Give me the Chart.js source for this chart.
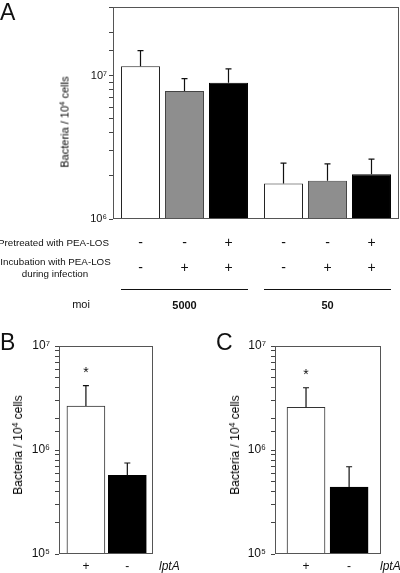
<!DOCTYPE html>
<html>
<head>
<meta charset="utf-8">
<script src="https://cdn.jsdelivr.net/npm/chart.js@4.4.0/dist/chart.umd.min.js"></script>
<style>
  body { margin: 0; background: #fff; font-family: "Liberation Sans", Arial, sans-serif; color: #111; }
  #wrap { position: relative; width: 400px; height: 573px; overflow: hidden; }
  canvas { position: absolute; }
  .letter { position: absolute; font-size: 23px; line-height: 1; }
  .ytitle { position: absolute; white-space: nowrap; line-height: 1; color: #000; transform: translate(-50%, -50%) rotate(-90deg); }
  .ytitle sup { font-size: 0.72em; vertical-align: 0.5em; line-height: 0; }
  .gene { position: absolute; font-style: italic; font-size: 12px; line-height: 1; }
</style>
</head>
<body>
<div id="wrap">
  <canvas id="chartA" width="400" height="320" style="left:0;top:0"></canvas>
  <canvas id="chartB" width="200" height="243" style="left:0;top:330px"></canvas>
  <canvas id="chartC" width="200" height="243" style="left:200px;top:330px"></canvas>

  <div class="letter" style="left:0;top:1px">A</div>
  <div class="letter" style="left:0;top:331px">B</div>
  <div class="letter" style="left:216px;top:331px">C</div>

  <div class="ytitle" style="left:65px;top:122px;font-size:11px">Bacteria / 10<sup>4</sup> cells</div>
  <div class="ytitle" style="left:18px;top:445px;font-size:12px">Bacteria / 10<sup>4</sup> cells</div>
  <div class="ytitle" style="left:235px;top:445px;font-size:12px">Bacteria / 10<sup>4</sup> cells</div>

  <div class="gene" style="left:159px;top:560px">lptA</div>
  <div class="gene" style="left:380px;top:560px">lptA</div>
</div>

<script>
// panel A: two moi groups, three treatments each
const moiGroups = ['5000', '50'];
const treatments = ['none', 'PEA-LOS during infection', 'pretreated + PEA-LOS'];
const pretreatedSign = ['-', '-', '+'];
const incubationSign = ['-', '+', '+'];
const noneVals = [1.16e7, 1.77e6];
const noneErr = [3.3e6, 6.8e5];
const duringVals = [7.8e6, 1.85e6];
const duringErr = [1.7e6, 5.7e5];
const pretreatVals = [8.9e6, 2.05e6];
const pretreatErr = [2.2e6, 5.6e5];

// panels B and C: lptA + / -
const lptStatus = ['+', '-'];
const bVals = [2.65e6, 5.7e5];
const bErr = [1.5e6, 1.8e5];
const cVals = [2.57e6, 4.4e5];
const cErr = [1.4e6, 2.5e5];
const stars = ['*', ''];

const FONT = '"Liberation Sans", Arial, sans-serif';
Chart.defaults.font.family = FONT;
Chart.defaults.color = '#111';

const supDigits = { 5: '\u2075', 6: '\u2076', 7: '\u2077' };
const decadeLabel = (v) => {
  const e = Math.log10(v);
  return Math.abs(e - Math.round(e)) < 1e-9 ? '10' + supDigits[Math.round(e)] : '';
};

// box around the plot area
const frame = {
  id: 'frame',
  afterDatasetsDraw(chart) {
    const { left, top, right, bottom } = chart.chartArea;
    const ctx = chart.ctx;
    ctx.save();
    ctx.strokeStyle = '#555';
    ctx.lineWidth = 1;
    ctx.strokeRect(left + 0.5, top + 0.5, right - left - 1, bottom - top - 1);
    ctx.restore();
  }
};

// upward error bars (+ optional significance star)
const errorBars = {
  id: 'errorBars',
  afterDatasetsDraw(chart) {
    const ctx = chart.ctx;
    const y = chart.scales.y;
    chart.data.datasets.forEach((ds, i) => {
      chart.getDatasetMeta(i).data.forEach((bar, j) => {
        const raw = ds.data[j];
        const val = typeof raw === 'object' ? raw.y : raw;
        const top = y.getPixelForValue(val + ds.errors[j]);
        ctx.save();
        ctx.strokeStyle = '#111';
        ctx.lineWidth = 1.2;
        ctx.beginPath();
        ctx.moveTo(bar.x, bar.y);
        ctx.lineTo(bar.x, top);
        ctx.moveTo(bar.x - 3, top);
        ctx.lineTo(bar.x + 3, top);
        ctx.stroke();
        if (ds.stars && ds.stars[j]) {
          ctx.fillStyle = '#111';
          ctx.font = '14px ' + FONT;
          ctx.textAlign = 'center';
          ctx.textBaseline = 'alphabetic';
          ctx.fillText(ds.stars[j], bar.x, top - 9);
        }
        ctx.restore();
      });
    });
  }
};

// treatment table under panel A
const treatmentRows = {
  id: 'treatmentRows',
  afterDraw(chart) {
    const ctx = chart.ctx;
    ctx.save();
    ctx.fillStyle = '#111';
    ctx.textBaseline = 'middle';
    ctx.font = '9.8px ' + FONT;
    ctx.textAlign = 'right';
    ctx.fillText('Pretreated with PEA-LOS', 109, 243);
    ctx.textAlign = 'center';
    ctx.fillText('Incubation with PEA-LOS', 55.5, 262);
    ctx.fillText('during infection', 55, 274);
    ctx.font = '11px ' + FONT;
    ctx.fillText('moi', 81, 305);

    ctx.font = '14px ' + FONT;
    chart.data.datasets.forEach((ds, i) => {
      chart.getDatasetMeta(i).data.forEach((bar) => {
        ctx.fillText(pretreatedSign[i], bar.x, 243);
        ctx.fillText(incubationSign[i], bar.x, 268);
      });
    });

    const first = chart.getDatasetMeta(0).data;
    const last = chart.getDatasetMeta(chart.data.datasets.length - 1).data;
    ctx.strokeStyle = '#111';
    ctx.lineWidth = 1;
    moiGroups.forEach((g, j) => {
      ctx.beginPath();
      ctx.moveTo(first[j].x - first[j].width / 2, 289.5);
      ctx.lineTo(last[j].x + last[j].width / 2, 289.5);
      ctx.stroke();
    });
    ctx.restore();
  }
};

function logAxis(min, max, width, fontSize, pad) {
  return {
    type: 'logarithmic',
    min: min,
    max: max,
    grid: { drawOnChartArea: false, tickLength: 4, color: '#444' },
    border: { display: false },
    ticks: { autoSkip: false, padding: pad, font: { size: fontSize }, callback: decadeLabel },
    afterFit: (s) => { s.width = width; s.paddingTop = 0; s.paddingBottom = 0; }
  };
}

new Chart(document.getElementById('chartA'), {
  type: 'bar',
  data: {
    labels: moiGroups,
    datasets: [
      { label: treatments[0], data: noneVals, errors: noneErr, backgroundColor: '#fff', borderColor: '#222', borderWidth: 1 },
      { label: treatments[1], data: duringVals, errors: duringErr, backgroundColor: '#8e8e8e', borderColor: '#444', borderWidth: 1 },
      { label: treatments[2], data: pretreatVals, errors: pretreatErr, backgroundColor: '#000', borderColor: '#000', borderWidth: 1 }
    ]
  },
  options: {
    responsive: false,
    animation: false,
    layout: { padding: { top: 7, right: 1, left: 0, bottom: 0 } },
    datasets: { bar: { categoryPercentage: 0.923, barPercentage: 0.886 } },
    plugins: { legend: { display: false }, tooltip: { enabled: false } },
    scales: {
      x: {
        grid: { display: false, drawTicks: false },
        border: { display: false },
        ticks: { padding: 80, font: { size: 11, weight: 'bold' } },
        afterFit: (s) => { s.height = 101; s.paddingLeft = 0; s.paddingRight = 0; }
      },
      y: logAxis(1e6, 3e7, 113, 11, 2)
    }
  },
  plugins: [frame, errorBars, treatmentRows]
});

function lptChart(id, vals, errs, xmin, xmax, yWidth, padRight) {
  return new Chart(document.getElementById(id), {
    type: 'bar',
    data: {
      datasets: [{
        data: vals.map((v, i) => ({ x: i + 1, y: v })),
        errors: errs,
        stars: stars,
        backgroundColor: ['#fff', '#000'],
        borderColor: ['#333', '#000'],
        borderWidth: 1,
        barThickness: 38
      }]
    },
    options: {
      responsive: false,
      animation: false,
      layout: { padding: { top: 16, right: padRight, left: 0, bottom: 0 } },
      plugins: { legend: { display: false }, tooltip: { enabled: false } },
      scales: {
        x: {
          type: 'linear',
          offset: false,
          min: xmin,
          max: xmax,
          grid: { display: false, drawTicks: false },
          border: { display: false },
          afterBuildTicks: (s) => { s.ticks = lptStatus.map((_, i) => ({ value: i + 1 })); },
          ticks: { padding: 5, font: { size: 12 }, callback: (v) => lptStatus[v - 1] },
          afterFit: (s) => { s.height = 19; s.paddingLeft = 0; s.paddingRight = 0; }
        },
        y: logAxis(1e5, 1e7, yWidth, 12, 5)
      }
    },
    plugins: [frame, errorBars]
  });
}

lptChart('chartB', bVals, bErr, 0.35, 2.62, 59, 47);
lptChart('chartC', cVals, cErr, 0.28, 2.74, 75, 19);
</script>
</body>
</html>
